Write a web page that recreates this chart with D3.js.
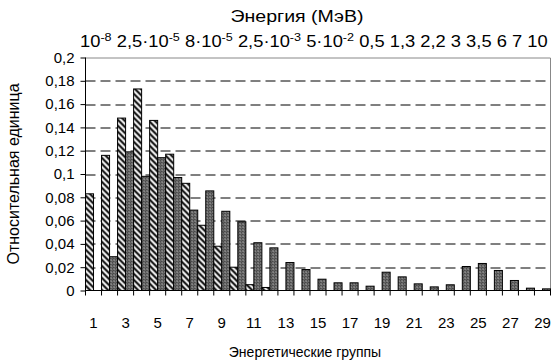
<!DOCTYPE html>
<html>
<head>
<meta charset="utf-8">
<script src="https://cdn.jsdelivr.net/npm/d3@7"></script>
<style>
  body { margin: 0; background: #fff; }
  text { font-family: "Liberation Sans", Arial, sans-serif; fill: #000; }
</style>
</head>
<body>
<div id="chart"></div>
<script>
// energy groups 1..29
var groups = d3.range(1, 30);

// hatched series (left bar in each group)
var seriesA = [0.083, 0.116, 0.148, 0.173, 0.146, 0.117, 0.092, 0.056, 0.038, 0.020,
               0.005, 0.0026, 0, 0, 0, 0, 0, 0, 0, 0,
               0, 0, 0, 0, 0, 0, 0, 0, 0];

// dotted dark series (right bar in each group)
var seriesB = [0, 0.029, 0.119, 0.098, 0.114, 0.097, 0.069, 0.0855, 0.068, 0.059,
               0.041, 0.0366, 0.024, 0.018, 0.0097, 0.0066, 0.0066, 0.0037, 0.0157, 0.0117,
               0.0057, 0.0031, 0.0049, 0.0206, 0.0232, 0.0172, 0.0086, 0.002, 0.0014];

var yTicks = [0, 0.02, 0.04, 0.06, 0.08, 0.1, 0.12, 0.14, 0.16, 0.18, 0.2];

// top energy labels: [mantissa, exponent]
var energyLabels = [["10", "-8"], ["2,5·10", "-5"], ["8·10", "-5"], ["2,5·10", "-3"], ["5·10", "-2"],
                    ["0,5", null], ["1,3", null], ["2,2", null], ["3", null], ["3,5", null],
                    ["6", null], ["7", null], ["10", null]];

var svgWidth = 552;
var svgHeight = 361;

var margin = { top: 57.5, right: 1.5, bottom: 70.5, left: 85.5 };
var width = svgWidth - margin.left - margin.right;
var height = svgHeight - margin.top - margin.bottom;

var svg = d3.select("#chart")
    .append("svg")
    .attr("width", svgWidth)
    .attr("height", svgHeight);

// patterns
var defs = svg.append("defs");
var hatch = defs.append("pattern")
    .attr("id", "hatch")
    .attr("patternUnits", "userSpaceOnUse")
    .attr("width", 6)
    .attr("height", 6);
hatch.append("rect").attr("width", 6).attr("height", 6).attr("fill", "#fff");
hatch.append("path")
    .attr("d", "M-1,-1 L7,7 M-1,5 L1,7 M5,-1 L7,1")
    .attr("stroke", "#000")
    .attr("stroke-width", 2);

var dots = defs.append("pattern")
    .attr("id", "dots")
    .attr("patternUnits", "userSpaceOnUse")
    .attr("width", 3)
    .attr("height", 3);
dots.append("rect").attr("width", 3).attr("height", 3).attr("fill", "#4a4a4a");
dots.append("rect").attr("x", 1).attr("y", 1).attr("width", 1).attr("height", 1).attr("fill", "#f0f0f0");
dots.append("rect").attr("x", 2).attr("y", 2).attr("width", 1).attr("height", 1).attr("fill", "#999");

var chartGroup = svg.append("g")
    .attr("transform", `translate(${margin.left}, ${margin.top})`);

// scales
var xScale = d3.scaleBand()
    .domain(groups)
    .range([0, width])
    .padding(0);

var xSub = d3.scaleBand()
    .domain(["A", "B"])
    .range([0, xScale.bandwidth()])
    .padding(0);

var yScale = d3.scaleLinear()
    .domain([0, 0.2])
    .range([height, 0]);

// gridlines
chartGroup.selectAll(".grid")
    .data(yTicks.filter(d => d > 0 && d < 0.2))
    .enter()
    .append("line")
    .attr("x1", 0)
    .attr("x2", width)
    .attr("y1", d => Math.round(yScale(d)) + 0.5)
    .attr("y2", d => Math.round(yScale(d)) + 0.5)
    .attr("stroke", "#000")
    .attr("stroke-dasharray", "10,5");

// plot border top / right
chartGroup.append("path")
    .attr("d", `M0,0.5 H${width} V${height}`)
    .attr("fill", "none")
    .attr("stroke", "#888");

// bars
var barData = [];
groups.forEach(function (g, i) {
    barData.push({ g: g, s: "A", v: seriesA[i] });
    barData.push({ g: g, s: "B", v: seriesB[i] });
});

chartGroup.selectAll(".bar")
    .data(barData.filter(d => d.v > 0))
    .enter()
    .append("rect")
    .attr("x", d => xScale(d.g) + xSub(d.s))
    .attr("y", d => yScale(d.v))
    .attr("width", xSub.bandwidth())
    .attr("height", d => height - yScale(d.v))
    .attr("fill", d => d.s == "A" ? "url(#hatch)" : "url(#dots)")
    .attr("stroke", "#000")
    .attr("stroke-width", 1);

// axes
var fmt = d => d3.format("")(d).replace(".", ",");
var leftAxis = d3.axisLeft(yScale)
    .tickValues(yTicks)
    .tickSize(5)
    .tickPadding(6)
    .tickFormat(fmt);

var yAxis = chartGroup.append("g").call(leftAxis);
yAxis.select(".domain").attr("d", `M0,0V${height}`);
yAxis.selectAll("text").style("font-size", "15px").attr("font-family", null);

var xAxisG = chartGroup.append("g")
    .attr("transform", `translate(0, ${height})`);
xAxisG.append("line")
    .attr("x1", 0).attr("x2", width)
    .attr("stroke", "#000");
xAxisG.selectAll(".xtick")
    .data(groups.concat([30]))
    .enter()
    .append("line")
    .attr("x1", (d, i) => i * xScale.step())
    .attr("x2", (d, i) => i * xScale.step())
    .attr("y1", 0)
    .attr("y2", 5)
    .attr("stroke", "#000");
xAxisG.selectAll(".xlabel")
    .data(groups.filter(d => d % 2 == 1))
    .enter()
    .append("text")
    .attr("x", d => xScale(d) + xScale.bandwidth() / 2)
    .attr("y", 37)
    .attr("text-anchor", "middle")
    .style("font-size", "15px")
    .text(d => d);

// axis titles
svg.append("text")
    .attr("x", 305)
    .attr("y", 357)
    .attr("text-anchor", "middle")
    .style("font-size", "14px")
    .text("Энергетические группы");

svg.append("text")
    .attr("transform", "rotate(-90)")
    .attr("x", -(margin.top + height / 2))
    .attr("y", 19)
    .attr("text-anchor", "middle")
    .style("font-size", "16px")
    .text("Относительная единица");

// top title, slightly wide as in the picture
svg.append("text")
    .attr("transform", "translate(297, 22) scale(1.15, 1)")
    .attr("text-anchor", "middle")
    .style("font-size", "17px")
    .text("Энергия (МэВ)");

// energy labels line, stretched from x=80 to x=548
var eLine = svg.append("text")
    .style("font-size", "16px");
var shift = 0;
energyLabels.forEach(function (lab, i) {
    eLine.append("tspan")
        .attr("dy", shift)
        .text((i > 0 ? " " : "") + lab[0]);
    shift = 0;
    if (lab[1]) {
        eLine.append("tspan")
            .attr("dy", -6)
            .style("font-size", "11px")
            .text(lab[1]);
        shift = 6;
    }
});
var eW = eLine.node().getComputedTextLength();
eLine.attr("transform", `translate(80, 47) scale(${(548 - 80) / eW}, 1)`);
</script>
</body>
</html>
